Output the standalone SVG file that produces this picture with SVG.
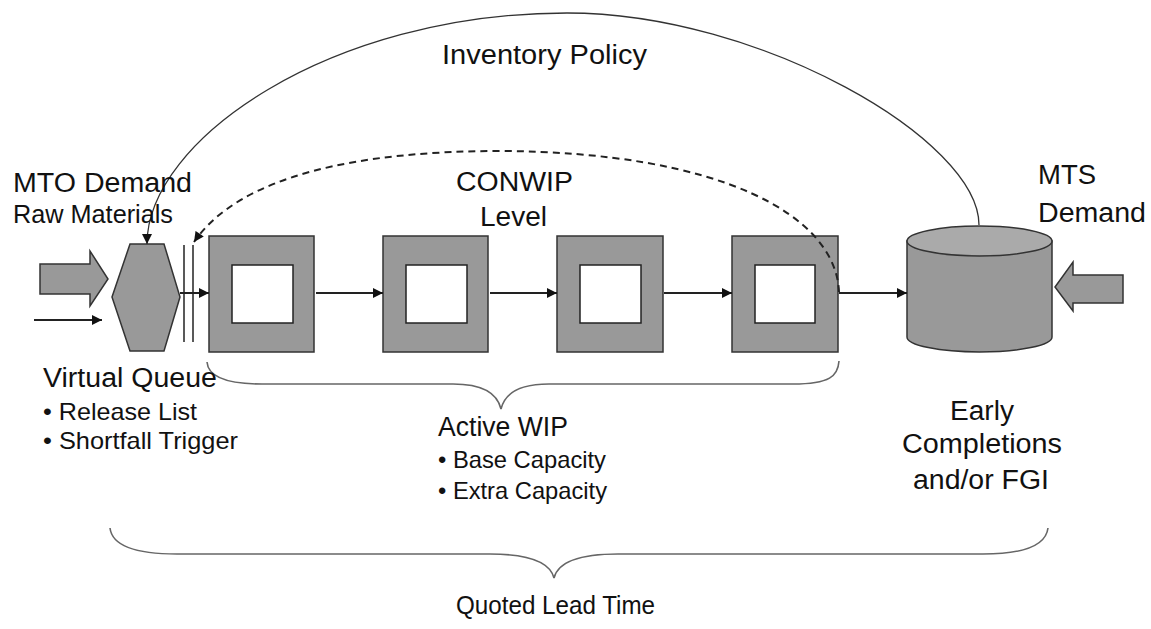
<svg xmlns="http://www.w3.org/2000/svg" width="1151" height="629" viewBox="0 0 1151 629">
<style>
text{font-family:"Liberation Sans",Arial,sans-serif;fill:#111;}
.lbl{font-size:27px;}
.sub{font-size:24px;}
.shape{fill:#999;stroke:#333;stroke-width:1.5;}
.inner{fill:#fff;stroke:#222;stroke-width:1.5;}
.flow{fill:none;stroke:#222;stroke-width:2;marker-end:url(#ah);}
.thin{fill:none;stroke:#333;stroke-width:1.3;}
.brace{fill:none;stroke:#666;stroke-width:1.6;}
</style>
<defs>
<marker id="ah" viewBox="0 0 10 10" refX="10" refY="5" markerWidth="11" markerHeight="10" markerUnits="userSpaceOnUse" orient="auto">
<path d="M0,0 L10,5 L0,10 Z" fill="#111"/>
</marker>
</defs>
<rect width="1151" height="629" fill="#fff"/>

<g id="mto-input">
<polygon class="shape" points="40,264 90,264 90,251 108,279 90,306 90,294 40,294"/>
</g>

<g id="virtual-queue">
<polygon class="shape" points="130,244 164,244 180,297 164,351 130,351 112,297"/>
<line x1="184" y1="245" x2="184" y2="342" stroke="#222" stroke-width="1.5"/>
<line x1="193" y1="245" x2="193" y2="342" stroke="#222" stroke-width="1.5"/>
</g>

<g id="station1">
<rect class="shape" x="209" y="236" width="105" height="116"/>
<rect class="inner" x="232" y="265" width="61" height="58"/>
</g>
<g id="station2">
<rect class="shape" x="383" y="236" width="105" height="116"/>
<rect class="inner" x="406" y="265" width="61" height="58"/>
</g>
<g id="station3">
<rect class="shape" x="557" y="236" width="106" height="116"/>
<rect class="inner" x="580" y="265" width="61" height="58"/>
</g>
<g id="station4">
<rect class="shape" x="732" y="236" width="106" height="116"/>
<rect class="inner" x="755" y="265" width="60" height="58"/>
</g>

<g id="fgi">
<path class="shape" d="M907 241 V337 A72.5 15 0 0 0 1052 337 V241 Z"/>
<ellipse cx="979.5" cy="241" rx="72.5" ry="15" fill="#aaa" stroke="#333" stroke-width="1.5"/>
</g>

<g id="mts-input">
<polygon class="shape" points="1123,275 1073,275 1073,262 1055,287 1073,311 1073,303 1123,303"/>
</g>

<g id="connectors">
<path class="thin" marker-end="url(#ah)" d="M979 225 C979 140 760 13 567 13 C330 13 147 140 147 244"/>
<path fill="none" stroke="#222" stroke-width="2" stroke-dasharray="7,5" marker-end="url(#ah)" d="M839 292 C836 215 720 152 500 151 C360 151 240 175 194 242"/>
<line class="flow" x1="34" y1="320" x2="102" y2="320"/>
<line class="flow" x1="180" y1="293" x2="209" y2="293"/>
<line class="flow" x1="316" y1="293" x2="383" y2="293"/>
<line class="flow" x1="490" y1="293" x2="557" y2="293"/>
<line class="flow" x1="664" y1="293" x2="732" y2="293"/>
<line class="flow" x1="839" y1="293" x2="907" y2="293"/>
</g>

<g id="braces">
<path class="brace" d="M207 362 C208 376 225 384 262 384 L453 384 C480 384 497 392 501 409 C505 392 522 384 549 384 L793 384 C830 384 838 376 839 361"/>
<path class="brace" d="M110 528 C112 545 135 554 177 554 L490 554 C530 554 550 562 554 578 C558 562 578 554 618 554 L983 554 C1025 554 1046 545 1048 528"/>
</g>

<g id="labels">
<text class="lbl" x="442" y="64" textLength="205" lengthAdjust="spacingAndGlyphs">Inventory Policy</text>
<text class="lbl" x="13" y="192" textLength="179" lengthAdjust="spacingAndGlyphs">MTO Demand</text>
<text class="lbl" x="13" y="223" style="font-size:26px" textLength="160" lengthAdjust="spacingAndGlyphs">Raw Materials</text>
<text class="lbl" x="456" y="191" textLength="117" lengthAdjust="spacingAndGlyphs">CONWIP</text>
<text class="lbl" x="480" y="226" textLength="67" lengthAdjust="spacingAndGlyphs">Level</text>
<text class="lbl" x="1038" y="184" textLength="58" lengthAdjust="spacingAndGlyphs">MTS</text>
<text class="lbl" x="1038" y="222" textLength="108" lengthAdjust="spacingAndGlyphs">Demand</text>
<text class="lbl" x="43" y="387" textLength="174" lengthAdjust="spacingAndGlyphs">Virtual Queue</text>
<text class="sub" x="43" y="420" textLength="154" lengthAdjust="spacingAndGlyphs">• Release List</text>
<text class="sub" x="43" y="449" textLength="195" lengthAdjust="spacingAndGlyphs">• Shortfall Trigger</text>
<text class="lbl" x="438" y="436" textLength="130" lengthAdjust="spacingAndGlyphs">Active WIP</text>
<text class="sub" x="438" y="468" textLength="168" lengthAdjust="spacingAndGlyphs">• Base Capacity</text>
<text class="sub" x="438" y="499" textLength="169" lengthAdjust="spacingAndGlyphs">• Extra Capacity</text>
<text class="lbl" x="950" y="420" textLength="64" lengthAdjust="spacingAndGlyphs">Early</text>
<text class="lbl" x="902" y="453" textLength="160" lengthAdjust="spacingAndGlyphs">Completions</text>
<text class="lbl" x="913" y="489" textLength="136" lengthAdjust="spacingAndGlyphs">and/or FGI</text>
<text class="lbl" x="456" y="614" style="font-size:26px" textLength="199" lengthAdjust="spacingAndGlyphs">Quoted Lead Time</text>
</g>
</svg>
